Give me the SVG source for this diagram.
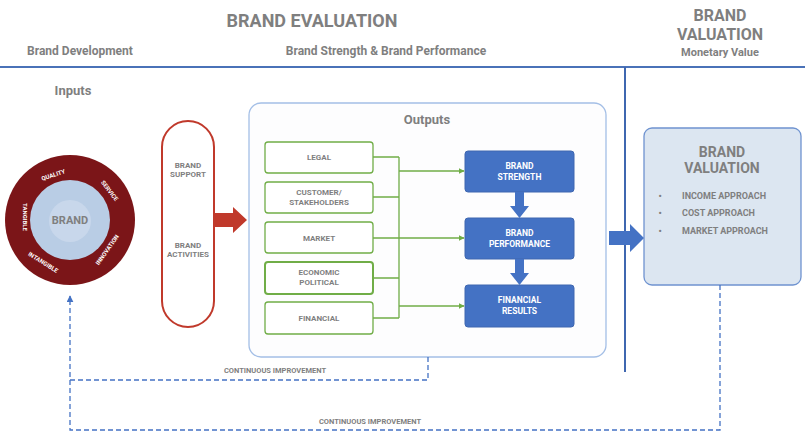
<svg xmlns="http://www.w3.org/2000/svg" width="805" height="432" viewBox="0 0 805 432">
<defs>
<style>
text{font-family:Roboto,"Liberation Sans",sans-serif;font-weight:bold;fill:#7f7f7f;text-anchor:middle}
.ring{fill:#ffffff;font-size:6px}
.g{fill:#fff;stroke:#70ad47;stroke-width:1.3}
.gl{font-size:8px}
.b{fill:#4472c4;stroke:#3f67b0;stroke-width:1}
.bl{fill:#fff;font-size:8.5px}
.conn{fill:none;stroke:#70ad47;stroke-width:1.3}
.dash{fill:none;stroke:#4472c4;stroke-width:1.3;stroke-dasharray:5 3}
.ci{font-size:7.5px}
</style>
<marker id="ga" viewBox="0 0 10 10" refX="9" refY="5" markerWidth="6" markerHeight="6" markerUnits="userSpaceOnUse" orient="auto"><path d="M0,0L10,5L0,10z" fill="#70ad47"/></marker>
<marker id="ba" viewBox="0 0 10 10" refX="9" refY="5" markerWidth="7" markerHeight="7" markerUnits="userSpaceOnUse" orient="auto"><path d="M0,0L10,5L0,10z" fill="#4472c4"/></marker>
</defs>
<rect width="805" height="432" fill="#ffffff"/>

<g id="header">
<text x="312" y="27" style="font-size:18px">BRAND EVALUATION</text>
<text x="80" y="55" style="font-size:12px">Brand Development</text>
<text x="386" y="55" style="font-size:12px">Brand Strength &amp; Brand Performance</text>
<text x="720" y="21" style="font-size:16px">BRAND</text>
<text x="720" y="40" style="font-size:16px">VALUATION</text>
<text x="720" y="56" style="font-size:11px">Monetary Value</text>
<line x1="0" y1="67" x2="805" y2="67" stroke="#4a72b8" stroke-width="2"/>
<line x1="625" y1="67" x2="625" y2="372" stroke="#3f67b0" stroke-width="2"/>
</g>

<g id="inputs">
<text x="73" y="95" style="font-size:13px">Inputs</text>
<circle cx="70" cy="220" r="65" fill="#7b1518"/>
<circle cx="70" cy="220" r="40" fill="#b9cde5"/>
<circle cx="70" cy="221" r="21" fill="#c8d7eb"/>
<text x="70" y="224" style="font-size:11px">BRAND</text>
<text class="ring" transform="translate(54,177) rotate(-18)">QUALITY</text>
<text class="ring" transform="translate(108,192) rotate(52)">SERVICE</text>
<text class="ring" transform="translate(109,251) rotate(-55)">INNOVATION</text>
<text class="ring" transform="translate(42,264) rotate(32)">INTANGIBLE</text>
<text class="ring" transform="translate(23,217) rotate(90)">TANGIBLE</text>
</g>

<g id="brand-activities">
<rect x="162" y="121" width="52" height="206" rx="26" fill="#fff" stroke="#c0392b" stroke-width="2"/>
<text x="188" y="168" style="font-size:8px">BRAND</text>
<text x="188" y="177" style="font-size:8px">SUPPORT</text>
<text x="188" y="248" style="font-size:8px">BRAND</text>
<text x="188" y="257" style="font-size:8px">ACTIVITIES</text>
<path d="M215,213H233V207L247,220L233,233V227H215z" fill="#c0392b"/>
</g>

<g id="outputs">
<rect x="249" y="103" width="357" height="254" rx="12" fill="#fdfdfe" stroke="#a4bfe6" stroke-width="1.3"/>
<text x="427" y="124" style="font-size:13px">Outputs</text>
</g>

<g id="legal"><rect class="g" x="265" y="142" width="108" height="31" rx="3"/><text class="gl" x="319" y="160">LEGAL</text></g>
<g id="customer"><rect class="g" x="265" y="182" width="108" height="31" rx="3"/><text class="gl" x="319" y="195">CUSTOMER/</text><text class="gl" x="319" y="205">STAKEHOLDERS</text></g>
<g id="market"><rect class="g" x="265" y="222" width="108" height="31" rx="3"/><text class="gl" x="319" y="241">MARKET</text></g>
<g id="economic"><rect class="g" x="265" y="262" width="108" height="32" rx="3" style="stroke-width:2"/><text class="gl" x="319" y="275">ECONOMIC</text><text class="gl" x="319" y="285">POLITICAL</text></g>
<g id="financial"><rect class="g" x="265" y="302" width="108" height="32" rx="3"/><text class="gl" x="319" y="321">FINANCIAL</text></g>

<g id="brand-strength"><rect class="b" x="465" y="151" width="109" height="41" rx="3"/><text class="bl" x="519.5" y="169">BRAND</text><text class="bl" x="519.5" y="180">STRENGTH</text></g>
<g id="brand-performance"><rect class="b" x="465" y="218" width="109" height="41" rx="3"/><text class="bl" x="519.5" y="236">BRAND</text><text class="bl" x="519.5" y="247">PERFORMANCE</text></g>
<g id="financial-results"><rect class="b" x="465" y="285" width="109" height="42" rx="3"/><text class="bl" x="519.5" y="303">FINANCIAL</text><text class="bl" x="519.5" y="314">RESULTS</text></g>

<g id="brand-valuation">
<rect x="644" y="128" width="157" height="157" rx="8" fill="#dce6f1" stroke="#6f93d0" stroke-width="1.3"/>
<text x="722" y="157" style="font-size:14px">BRAND</text>
<text x="722" y="173" style="font-size:14px">VALUATION</text>
<g style="font-size:9px">
<text x="660" y="199">•</text><text x="682" y="199" style="text-anchor:start">INCOME APPROACH</text>
<text x="660" y="216">•</text><text x="682" y="216" style="text-anchor:start">COST APPROACH</text>
<text x="660" y="234">•</text><text x="682" y="234" style="text-anchor:start">MARKET APPROACH</text>
</g>
</g>

<g id="connectors">
<path class="conn" d="M373,157H399M373,197H399M373,238H399M373,278H399M373,318H399M399,157V318"/>
<path class="conn" d="M399,171H464" marker-end="url(#ga)"/>
<path class="conn" d="M399,238H464" marker-end="url(#ga)"/>
<path class="conn" d="M399,306H464" marker-end="url(#ga)"/>
<path d="M515,192H524V206H529L519.5,218L510,206H515z" fill="#4472c4"/>
<path d="M515,259H524V273H529L519.5,285L510,273H515z" fill="#4472c4"/>
<path d="M609,231H630V224L644,238L630,252V245H609z" fill="#4472c4"/>
<path class="dash" d="M428,357V380H70"/>
<path class="dash" d="M720,285V430H70V296" marker-end="url(#ba)"/>
<text class="ci" x="275" y="373">CONTINUOUS IMPROVEMENT</text>
<text class="ci" x="370" y="424">CONTINUOUS IMPROVEMENT</text>
</g>
</svg>
